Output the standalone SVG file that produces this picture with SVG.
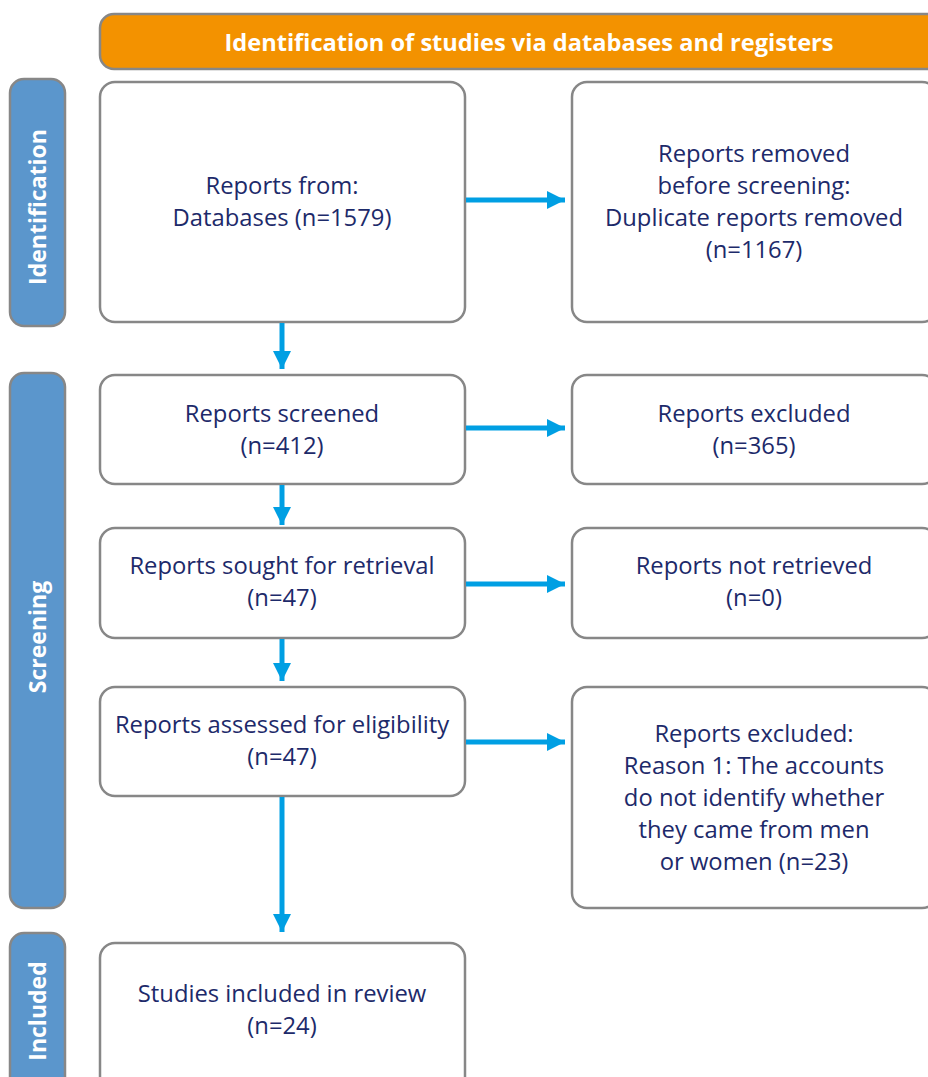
<svg xmlns="http://www.w3.org/2000/svg" width="928" height="1077" viewBox="0 0 928 1077">
<defs>
<style>
.box{fill:#fff;stroke:#878787;stroke-width:2.5}
.side{fill:#5b96cc;stroke:#878787;stroke-width:2.5}
.banner{fill:#f39200;stroke:#878787;stroke-width:2.5}
.t{font-family:"Open Sans","Liberation Sans",sans-serif;font-size:23.8px;fill:#1d2a6a;text-anchor:middle}
.st{font-family:"Open Sans","Liberation Sans",sans-serif;font-size:23px;font-weight:bold;fill:#fff;text-anchor:middle}
.c{stroke:#009fe3;stroke-width:5;fill:none}
</style>
<marker id="ah" viewBox="0 0 10 10" refX="10" refY="5" markerWidth="3.6" markerHeight="4" orient="auto" markerUnits="strokeWidth">
<path d="M0,0 L10,5 L0,10 z" fill="#009fe3"/>
</marker>
</defs>
<rect width="928" height="1077" fill="#fff"/>
<g id="banner">
<rect class="banner" x="100" y="14" width="858" height="55" rx="14"/>
<text class="st" x="529" y="51" style="font-size:23.6px">Identification of studies via databases and registers</text>
</g>
<g id="side-identification">
<rect class="side" x="10" y="79" width="55" height="247" rx="14"/>
<text class="st" transform="translate(46,207) rotate(-90)">Identification</text>
</g>
<g id="side-screening">
<rect class="side" x="10" y="373" width="55" height="535" rx="14"/>
<text class="st" transform="translate(46,637) rotate(-90)">Screening</text>
</g>
<g id="side-included">
<rect class="side" x="10" y="933" width="55" height="170" rx="14"/>
<text class="st" transform="translate(46,1011) rotate(-90)">Included</text>
</g>
<g id="n-databases">
<rect class="box" x="100" y="82" width="365" height="240" rx="15"/>
<text class="t" x="282" y="194">Reports from:</text>
<text class="t" x="282" y="226">Databases (n=1579)</text>
</g>
<g id="n-removed">
<rect class="box" x="572" y="82" width="365" height="240" rx="15"/>
<text class="t" x="754" y="162">Reports removed</text>
<text class="t" x="754" y="194">before screening:</text>
<text class="t" x="754" y="226">Duplicate reports removed</text>
<text class="t" x="754" y="258">(n=1167)</text>
</g>
<g id="n-screened">
<rect class="box" x="100" y="375" width="365" height="109" rx="15"/>
<text class="t" x="282" y="422">Reports screened</text>
<text class="t" x="282" y="454">(n=412)</text>
</g>
<g id="n-excluded">
<rect class="box" x="572" y="375" width="365" height="109" rx="15"/>
<text class="t" x="754" y="422">Reports excluded</text>
<text class="t" x="754" y="454">(n=365)</text>
</g>
<g id="n-sought">
<rect class="box" x="100" y="528" width="365" height="110" rx="15"/>
<text class="t" x="282" y="574">Reports sought for retrieval</text>
<text class="t" x="282" y="606">(n=47)</text>
</g>
<g id="n-notretrieved">
<rect class="box" x="572" y="528" width="365" height="110" rx="15"/>
<text class="t" x="754" y="574">Reports not retrieved</text>
<text class="t" x="754" y="606">(n=0)</text>
</g>
<g id="n-assessed">
<rect class="box" x="100" y="687" width="365" height="109" rx="15"/>
<text class="t" x="282" y="733">Reports assessed for eligibility</text>
<text class="t" x="282" y="765">(n=47)</text>
</g>
<g id="n-excluded-reasons">
<rect class="box" x="572" y="687" width="365" height="221" rx="15"/>
<text class="t" x="754" y="742">Reports excluded:</text>
<text class="t" x="754" y="774">Reason 1: The accounts</text>
<text class="t" x="754" y="806">do not identify whether</text>
<text class="t" x="754" y="838">they came from men</text>
<text class="t" x="754" y="870">or women (n=23)</text>
</g>
<g id="n-included">
<rect class="box" x="100" y="943" width="365" height="160" rx="15"/>
<text class="t" x="282" y="1002">Studies included in review</text>
<text class="t" x="282" y="1034">(n=24)</text>
</g>
<g id="connectors">
<line class="c" x1="466" y1="200" x2="565" y2="200" marker-end="url(#ah)"/>
<line class="c" x1="466" y1="428" x2="565" y2="428" marker-end="url(#ah)"/>
<line class="c" x1="466" y1="584" x2="565" y2="584" marker-end="url(#ah)"/>
<line class="c" x1="466" y1="742" x2="565" y2="742" marker-end="url(#ah)"/>
<line class="c" x1="282" y1="323" x2="282" y2="369" marker-end="url(#ah)"/>
<line class="c" x1="282" y1="485" x2="282" y2="525" marker-end="url(#ah)"/>
<line class="c" x1="282" y1="639" x2="282" y2="681" marker-end="url(#ah)"/>
<line class="c" x1="282" y1="797" x2="282" y2="932" marker-end="url(#ah)"/>
</g>
</svg>
